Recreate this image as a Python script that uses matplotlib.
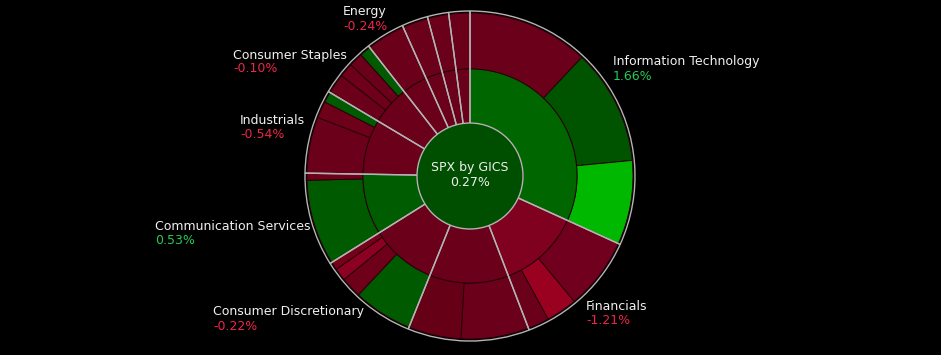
import matplotlib
matplotlib.use("Agg")
import matplotlib.pyplot as plt
from matplotlib.patches import Circle

# sector weights (% of index), clockwise from 12 o'clock
sectors = ['Information Technology', 'Financials', 'Health Care', 'Consumer Discretionary',
           'Communication Services', 'Industrials', 'Consumer Staples', 'Energy',
           'Utilities', 'Real Estate', 'Materials']
sector_weights = [31.8, 12.36, 11.94, 10.0, 9.17, 8.28, 5.89, 3.83, 2.56, 2.08, 2.08]
sector_colors = ['#006600', '#80001f', '#6a0019', '#6a0019', '#005c00', '#6a0019',
                 '#6a0019', '#6a0019', '#6a0019', '#6a0019', '#6a0019']
sector_changes = [1.66, -1.21, None, -0.22, 0.53, -0.54, -0.10, -0.24, None, None, None]

# constituents (outer ring) per sector
member_weights = [
    [12.03, 11.44, 8.33],
    [7.17, 3.08, 2.11],
    [6.72, 5.22],
    [5.89, 2.06, 1.25, 0.80],
    [8.47, 0.70],
    [5.56, 1.67, 1.05],
    [2.0, 1.39, 1.39, 1.11],
    [3.83],
    [2.56],
    [2.08],
    [2.08],
]
member_colors = [
    ['#6a0019', '#005400', '#00b800'],
    ['#70001d', '#9a0020', '#6a0019'],
    ['#6a0019', '#660017'],
    ['#005a00', '#6e001a', '#8c0022', '#750019'],
    ['#005a00', '#6e001a'],
    ['#6a0019', '#6e001a', '#005a00'],
    ['#6a0019', '#6e001a', '#6a0019', '#005a00'],
    ['#6a0019'],
    ['#6a0019'],
    ['#6a0019'],
    ['#6a0019'],
]

index_name = 'SPX by GICS'
index_change = 0.27

W, H = 941, 355
cx, cy = 470, H - 176
r_center, r_inner, r_outer = 53, 107, 163

# label anchor (left edge, first line y in pixels from top)
label_pos = {
    'Information Technology': (613, 62),
    'Financials': (586, 306),
    'Consumer Discretionary': (213, 312),
    'Communication Services': (155, 227),
    'Industrials': (240, 120),
    'Consumer Staples': (233, 55),
    'Energy': (343, 12),
}

fig = plt.figure(figsize=(W / 100, H / 100), dpi=100, facecolor='black')
ax = fig.add_axes([0, 0, 1, 1])
ax.set_facecolor('black')

flat_w = [w for grp in member_weights for w in grp]
flat_c = [c for grp in member_colors for c in grp]

ax.pie(flat_w, colors=flat_c, radius=r_outer, center=(cx, cy), startangle=90,
       counterclock=False, normalize=True,
       wedgeprops=dict(width=r_outer - r_inner, edgecolor='#2a000a', linewidth=0.7, zorder=1))
ax.pie(sector_weights, colors=sector_colors, radius=r_inner, center=(cx, cy), startangle=90,
       counterclock=False, normalize=True,
       wedgeprops=dict(width=r_inner - r_center, edgecolor='#2a000a', linewidth=0.7, zorder=1))
# sector dividers and outer rim
ax.pie(sector_weights, radius=r_outer + 2, center=(cx, cy), startangle=90,
       counterclock=False, normalize=True,
       wedgeprops=dict(facecolor='none', edgecolor='#b4b4b4', linewidth=1.0, zorder=2))

ax.add_patch(Circle((cx, cy), r_center, facecolor='#004e00', edgecolor='#b4b4b4',
                    linewidth=1.0, zorder=3))

ax.text(cx, H - 168, index_name, color='#f0f0f0', fontsize=9, ha='center', va='center', zorder=4)
ax.text(cx, H - 183, f'{index_change:.2f}%', color='#f0f0f0', fontsize=9,
        ha='center', va='center', zorder=4)

for name, chg in zip(sectors, sector_changes):
    if name not in label_pos:
        continue
    x, y = label_pos[name]
    col = '#22cc55' if chg >= 0 else '#ee2548'
    ax.text(x, H - y, name, color='#f0f0f0', fontsize=9, ha='left', va='center', zorder=4)
    ax.text(x, H - y - 14, f'{chg:.2f}%', color=col, fontsize=9, ha='left', va='center', zorder=4)

ax.set_xlim(0, W)
ax.set_ylim(0, H)
ax.set_aspect('equal')
ax.axis('off')

fig.savefig('out.png', dpi=100, facecolor='black')
